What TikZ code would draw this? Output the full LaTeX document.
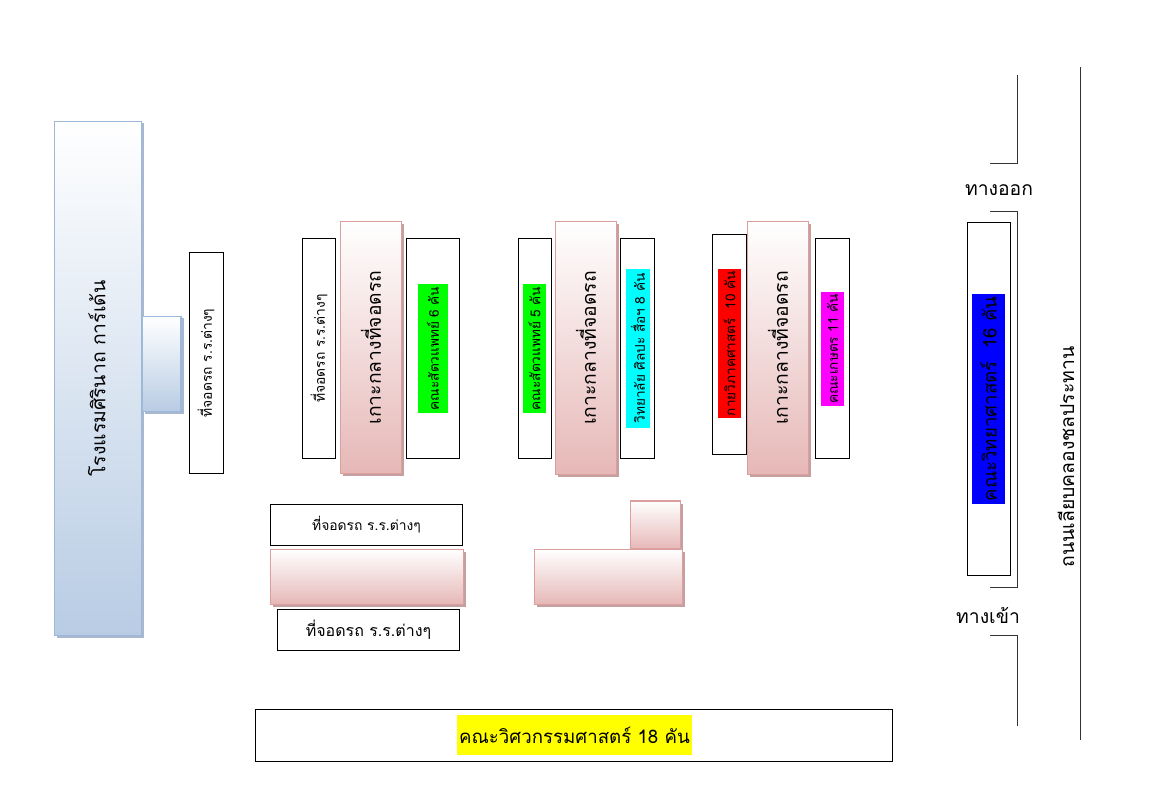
\documentclass[tikz,border=0pt]{standalone}
\usepackage{fontspec}
\usepackage{graphicx}
\usetikzlibrary{shadows}
\newfontfamily\thaifont[Script=Thai]{Loma}
\definecolor{hotelblue}{HTML}{B8CCE4}
\definecolor{hotelline}{HTML}{9DB9DA}
\definecolor{hotelshadow}{HTML}{A9B8D0}
\definecolor{islandpink}{HTML}{E6B8B7}
\definecolor{islandline}{HTML}{DC9F9E}
\definecolor{islandshadow}{HTML}{C4A0A0}
\definecolor{tagcyan}{HTML}{00FFFF}
\definecolor{tagmagenta}{HTML}{FF00FF}
\definecolor{tagyellow}{HTML}{FFFF00}
\definecolor{tagblue}{HTML}{0000FF}
\definecolor{taggreen}{HTML}{00FF00}
\definecolor{tagred}{HTML}{FF0000}
\newcommand{\vtext}[1]{\rotatebox{90}{#1}}
\tikzset{
  sized/.style 2 args={minimum width=#1*.75pt,minimum height=#2*.75pt,inner sep=0pt},
  parking/.style={draw=black,line width=.75pt,fill=white,font=\thaifont\fontsize{10.4}{12}\selectfont},
  tag/.style={fill=#1,font=\thaifont\fontsize{10.2}{12}\selectfont},
  hotel/.style={draw=hotelline,line width=1.05pt,top color=white,bottom color=hotelblue,
    drop shadow={shadow xshift=2pt,shadow yshift=-1.5pt,opacity=1,fill=hotelshadow}},
  island/.style={draw=islandline,line width=1.05pt,top color=white,bottom color=islandpink,
    drop shadow={shadow xshift=2pt,shadow yshift=-2pt,opacity=1,fill=islandshadow}},
  road/.style={draw=black!80,line width=.75pt},
  place/.style={font=\thaifont\fontsize{14.5}{17}\selectfont}
}
\begin{document}
\begin{tikzpicture}[x=.75pt,y=-.75pt]
  \useasboundingbox (0,0) rectangle (1151,812);

  % hotel
  \node (hotelA)[hotel,sized={87}{514},font=\thaifont\fontsize{14.5}{17}\selectfont] at (98,378.5) {\vtext{\raisebox{2pt}{โรงแรมศิรินาถ การ์เด้น}}};
  \node (hotelB)[hotel,sized={39}{95}] at (161.5,364) {};
  \node (parkA)[parking,sized={34}{220}] at (206,363) {\vtext{ที่จอดรถ ร.ร.ต่างๆ}};

  % three rows of islands
  \node (parkB)[parking,sized={33}{220}] at (319,348.5) {\vtext{ที่จอดรถ ร.ร.ต่างๆ}};
  \node (islandA)[island,sized={61}{252},font=\thaifont\fontsize{14.5}{17}\selectfont] at (371,347.5) {\vtext{เกาะกลางที่จอดรถ}};
  \node (boxA)[parking,sized={53}{220}] at (433,348.5) {};
  \node (vetA)[tag=taggreen,sized={30}{129}] at (433,348.5) {\vtext{คณะสัตวแพทย์ 6 คัน}};

  \node (boxB)[parking,sized={33}{220}] at (535,348.5) {};
  \node (vetB)[tag=taggreen,sized={23}{129}] at (534.5,348.5) {\vtext{คณะสัตวแพทย์ 5 คัน}};
  \node (islandB)[island,sized={61}{253},font=\thaifont\fontsize{14.5}{17}\selectfont] at (586,348) {\vtext{เกาะกลางที่จอดรถ}};
  \node (boxC)[parking,sized={34}{220}] at (637.5,348.5) {};
  \node (artsC)[tag=tagcyan,sized={24}{159}] at (638,348.5) {\vtext{วิทยาลัย ศิลปะ สื่อฯ 8 คัน}};

  \node (boxD)[parking,sized={34}{220}] at (729.5,344.5) {};
  \node (anatomyD)[tag=tagred,sized={23}{149}] at (729.5,343.5) {\vtext{กายวิภาคศาสตร์\ \ 10 คัน}};
  \node (islandC)[island,sized={61}{253},font=\thaifont\fontsize{14.5}{17}\selectfont] at (778,348) {\vtext{เกาะกลางที่จอดรถ}};
  \node (boxE)[parking,sized={34}{220}] at (832.5,348.5) {};
  \node (agriE)[tag=tagmagenta,sized={23}{114}] at (832.5,349) {\vtext{คณะเกษตร 11 คัน}};

  % lower blocks
  \node (parkC)[parking,sized={192}{41}] at (366.5,524.5) {ที่จอดรถ ร.ร.ต่างๆ};
  \node (blockA)[island,sized={193}{55}] at (367,577) {};
  \node (parkD)[parking,sized={182}{41},font=\thaifont\fontsize{12}{14}\selectfont] at (368.5,629.5) {ที่จอดรถ ร.ร.ต่างๆ};
  \node (blockB)[island,sized={50}{48}] at (655.5,525) {};
  \node (blockC)[island,sized={148}{55}] at (608.5,577) {};

  % engineering
  \node (boxF)[parking,sized={637}{52}] at (574,735) {};
  \node (engF)[tag=tagyellow,sized={235}{40},font=\thaifont\fontsize{14}{16}\selectfont] at (574.5,735) {คณะวิศวกรรมศาสตร์ 18 คัน};

  % right side
  \node (boxG)[parking,sized={43}{353}] at (989,399) {};
  \node (sciG)[tag=tagblue,sized={33}{210},font=\thaifont\fontsize{14}{16}\selectfont] at (988.5,399) {\vtext{คณะวิทยาศาสตร์\ \ 16 คัน}};
  \node (exit)[place] at (999,190) {ทางออก};
  \node (entry)[place] at (988,615) {ทางเข้า};
  \node (canal)[place] at (1066,457) {\vtext{ถนนเลียบคลองชลประทาน}};

  \coordinate (a1) at (1017,75);  \coordinate (a2) at (1017,164); \coordinate (a3) at (990,164);
  \coordinate (b1) at (990,212);  \coordinate (b2) at (1017,212); \coordinate (b3) at (1017,587); \coordinate (b4) at (990,587);
  \coordinate (c1) at (990,635);  \coordinate (c2) at (1017,635); \coordinate (c3) at (1017,726);
  \coordinate (d1) at (1080,67);  \coordinate (d2) at (1080,740);
  \draw[road] (a1) -- (a2) -- (a3);
  \draw[road] (b1) -- (b2) -- (b3) -- (b4);
  \draw[road] (c1) -- (c2) -- (c3);
  \draw[road] (d1) -- (d2);
\end{tikzpicture}
\end{document}
